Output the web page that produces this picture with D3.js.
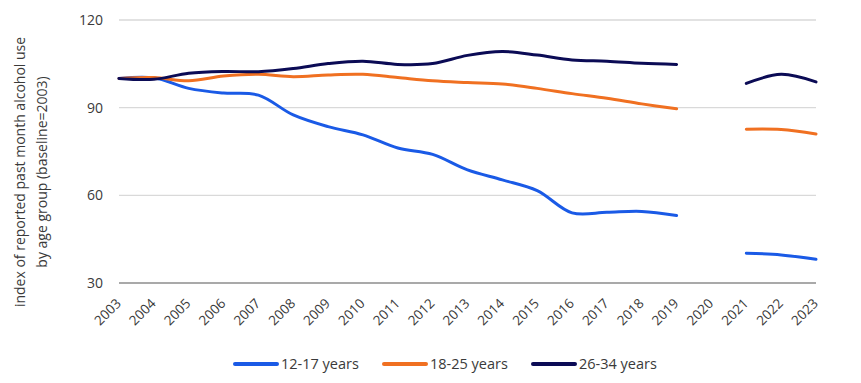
<!DOCTYPE html>
<html><head><meta charset="utf-8">
<script src="https://cdn.jsdelivr.net/npm/d3@7"></script>
<style>
html,body{margin:0;padding:0;background:#fff;}
svg text{font-family:"Open Sans","Noto Sans",sans-serif;fill:#3a3a3a;}
</style></head>
<body><svg id="c" width="861" height="383"></svg>
<script>
const years = ["2003","2004","2005","2006","2007","2008","2009","2010","2011","2012","2013","2014","2015","2016","2017","2018","2019","2020","2021","2022","2023"];
const yTicks = [30, 60, 90, 120];
const seriesNames = ["12-17 years", "18-25 years", "26-34 years"];
const seriesColors = ["#1a5ae6", "#f07021", "#0b0b55"];
const youth = [100, 100.2, 96.6, 95.0, 94.3, 87.5, 83.5, 80.7, 76.2, 74.0, 68.7, 65.3, 61.6, 54.0, 54.2, 54.5, 53.1, null, 40.2, 39.6, 38.1];
const youngAdults = [100, 100.3, 99.2, 100.8, 101.4, 100.6, 101.2, 101.4, 100.3, 99.2, 98.6, 98.1, 96.6, 94.8, 93.2, 91.3, 89.6, null, 82.6, 82.5, 81.0];
const adults = [100, 99.7, 101.8, 102.4, 102.3, 103.4, 105.1, 105.9, 104.8, 105.1, 107.9, 109.2, 108.0, 106.3, 105.9, 105.2, 104.8, null, 98.3, 101.4, 98.8];
const seriesValues = [youth, youngAdults, adults];

const svg = d3.select("#c");
const mLeft = 119, mRight = 816, mTop = 20, mBottom = 283;
const x = d3.scalePoint().domain(years).range([mLeft, mRight]);
const y = d3.scaleLinear().domain([30, 120]).range([mBottom, mTop]);
const font = "'Open Sans','Noto Sans',sans-serif";

// gridlines
svg.append("g").selectAll("line").data(yTicks.filter(t => t !== 30)).join("line")
  .attr("x1", mLeft).attr("x2", mRight)
  .attr("y1", d => y(d)).attr("y2", d => y(d))
  .attr("stroke", "#d9d9d9").attr("stroke-width", 1.3);

// y tick labels
const yAxis = d3.axisLeft(y).tickValues(yTicks).tickSize(0).tickPadding(16);
const gy = svg.append("g").attr("transform", `translate(${mLeft},0)`).call(yAxis);
gy.select(".domain").remove();
gy.selectAll("text").attr("font-size", 14).style("fill", "#3a3a3a").style("font-family", font);

// x axis baseline
svg.append("line").attr("x1", mLeft).attr("x2", mRight)
  .attr("y1", y(30)).attr("y2", y(30))
  .attr("stroke", "#8c8c8c").attr("stroke-width", 1.5);

// x tick labels
const xAxis = d3.axisBottom(x).tickSize(0).tickPadding(0);
const gx = svg.append("g").attr("transform", `translate(0,${mBottom})`).call(xAxis);
gx.select(".domain").remove();
gx.selectAll("text")
  .attr("font-size", 13.5)
  .attr("text-anchor", "end")
  .attr("dy", "0.35em")
  .attr("y", 0)
  .attr("transform", "translate(-1,18) rotate(-45)")
  .style("fill", "#3a3a3a")
  .style("font-family", font);

// lines
const line = d3.line()
  .defined(d => d != null)
  .x((d, i) => x(years[i]))
  .y(d => y(d))
  .curve(d3.curveCatmullRom.alpha(0.5));

seriesValues.forEach((vals, k) => {
  svg.append("path")
    .attr("d", line(vals))
    .attr("fill", "none")
    .attr("stroke", seriesColors[k])
    .attr("stroke-width", 3)
    .attr("stroke-linecap", "round");
});

// y axis title
const yt = svg.append("text")
  .attr("transform", "translate(25,172) rotate(-90)")
  .attr("text-anchor", "middle")
  .attr("font-size", 14);
yt.append("tspan").attr("x", 0).attr("dy", 0).text("index of reported past month alcohol use");
yt.append("tspan").attr("x", 0).attr("dy", 22).text("by age group (baseline=2003)");

// legend
const legendX = [235, 384, 533];
seriesNames.forEach((n, k) => {
  const g = svg.append("g").attr("transform", `translate(${legendX[k]},364)`);
  g.append("line").attr("x1", 0).attr("x2", 42).attr("y1", 0).attr("y2", 0)
    .attr("stroke", seriesColors[k]).attr("stroke-width", 4).attr("stroke-linecap", "round");
  g.append("text").attr("x", 46).attr("y", 0).attr("dy", "0.35em")
    .attr("font-size", 14.5).text(n);
});
</script></body></html>
